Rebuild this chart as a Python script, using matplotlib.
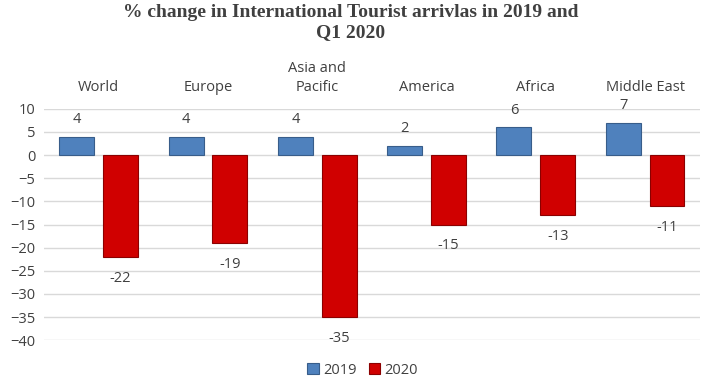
import matplotlib.pyplot as plt
import numpy as np

# Dane: procentowa zmiana przyjazdów turystów
regiony = ['World', 'Europe', 'Asia and\nPacific', 'America', 'Africa', 'Middle East']
zmiana_2019 = [4, 4, 4, 2, 6, 7]
zmiana_2020 = [-22, -19, -35, -15, -13, -11]

plt.rcParams['font.family'] = ['Open Sans', 'DejaVu Sans']

fig = plt.figure(figsize=(7.09, 3.78), dpi=100)
ax = fig.add_axes([0.062, 0.1, 0.925, 0.612])

x = np.arange(len(regiony))
szer = 0.32
b1 = ax.bar(x - 0.2, zmiana_2019, szer, color='#4F81BD', edgecolor='#385D8A', linewidth=0.8, label='2019', zorder=3)
b2 = ax.bar(x + 0.2, zmiana_2020, szer, color='#D00000', edgecolor='#8B0000', linewidth=0.8, label='2020', zorder=3)

# Etykiety wartości
for xi, v in zip(x - 0.2, zmiana_2019):
    ax.annotate(str(v), (xi, v), xytext=(0, 7), textcoords='offset points',
                ha='center', va='bottom', fontsize=10.5, color='#404040')
for xi, v in zip(x + 0.2, zmiana_2020):
    ax.annotate(str(v), (xi, v), xytext=(0, -10), textcoords='offset points',
                ha='center', va='top', fontsize=10.5, color='#404040')

ax.set_ylim(-40, 10)
ax.set_xlim(-0.5, len(regiony) - 0.5)
ax.set_yticks(np.arange(-40, 11, 5))
ax.yaxis.grid(True, color='#D9D9D9', linewidth=1, zorder=0)
ax.set_axisbelow(True)
for s in ax.spines.values():
    s.set_visible(False)
ax.tick_params(axis='y', length=0, labelsize=10.5, labelcolor='#404040', pad=6)

ax.xaxis.tick_top()
ax.set_xticks(x)
ax.set_xticklabels(regiony, fontsize=10.5, color='#404040', linespacing=1.4)
ax.tick_params(axis='x', length=0, pad=10)

fig.suptitle('% change in International Tourist arrivlas in 2019 and\nQ1 2020',
             family='Liberation Serif', fontweight='bold', fontsize=14, color='#404040',
             x=0.495, y=0.99, linespacing=1.25)

ax.legend(loc='upper center', bbox_to_anchor=(0.486, -0.04), ncol=2, frameon=False,
          fontsize=10.5, handlelength=0.8, handleheight=0.8, columnspacing=0.8, handletextpad=0.3,
          labelcolor='#404040')

fig.savefig('out.png', dpi=100)
